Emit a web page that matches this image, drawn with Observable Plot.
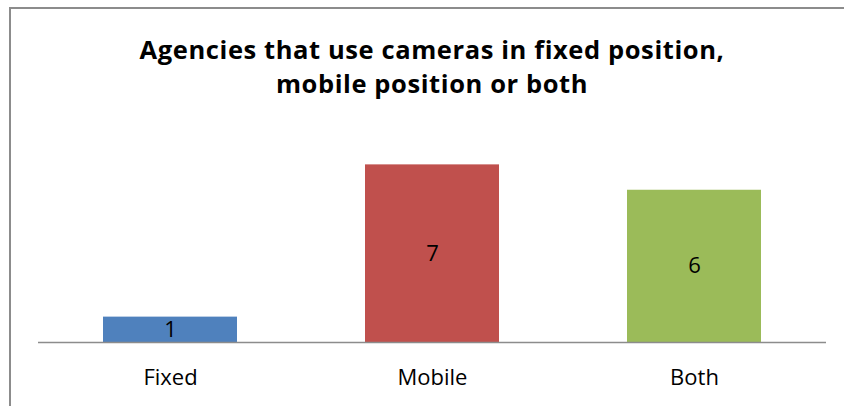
<!DOCTYPE html>
<html>
<head>
<meta charset="utf-8">
<script src="https://cdn.jsdelivr.net/npm/d3@7"></script>
<script src="https://cdn.jsdelivr.net/npm/@observablehq/plot@0.6"></script>
<style>
  html, body { margin: 0; padding: 0; background: #fff; }
  #wrap { position: relative; width: 844px; height: 406px; overflow: hidden; font-family: "Open Sans", sans-serif; }
  #frame { position: absolute; left: 9px; top: 7px; width: 900px; height: 500px; border-left: 2px solid #8c8c8c; border-top: 2px solid #8c8c8c; box-sizing: border-box; }
  #title { position: absolute; left: 0; top: 32px; width: 864px; text-align: center; font-weight: bold; font-size: 25.5px; letter-spacing: 0.6px; line-height: 34px; color: #000; }
  #chart { position: absolute; left: 0; top: 0; }
</style>
</head>
<body>
<div id="wrap">
  <div id="frame"></div>
  <div id="title">Agencies that use cameras in fixed position,<br>mobile position or both</div>
  <div id="chart"></div>
</div>
<script>
const categories = ["Fixed", "Mobile", "Both"];
const values = [1, 7, 6];
const colors = ["#4F81BD", "#C0504D", "#9BBB59"];

const data = categories.map((c, i) => ({category: c, value: values[i]}));

const chart = Plot.plot({
  width: 844,
  height: 406,
  marginTop: 139,
  marginBottom: 64,
  marginLeft: 38,
  marginRight: 18,
  style: {fontFamily: "'Open Sans', sans-serif", fontSize: "22px", background: "transparent", overflow: "visible"},
  x: {domain: categories, paddingInner: 0.487, paddingOuter: 0.2435, axis: null},
  y: {domain: [0, 8], axis: null},
  color: {domain: categories, range: colors},
  marks: [
    Plot.barY(data, {x: "category", y: "value", fill: "category"}),
    Plot.ruleY([0], {stroke: "#8c8c8c", strokeWidth: 1.6}),
    Plot.text(data, {x: "category", y: d => d.value / 2, text: d => String(d.value), fill: "#000", fontSize: 22}),
    Plot.axisX({tickSize: 0, tickPadding: 27, fontSize: 22, color: "#000", label: null})
  ]
});
document.getElementById("chart").appendChild(chart);
</script>
</body>
</html>
